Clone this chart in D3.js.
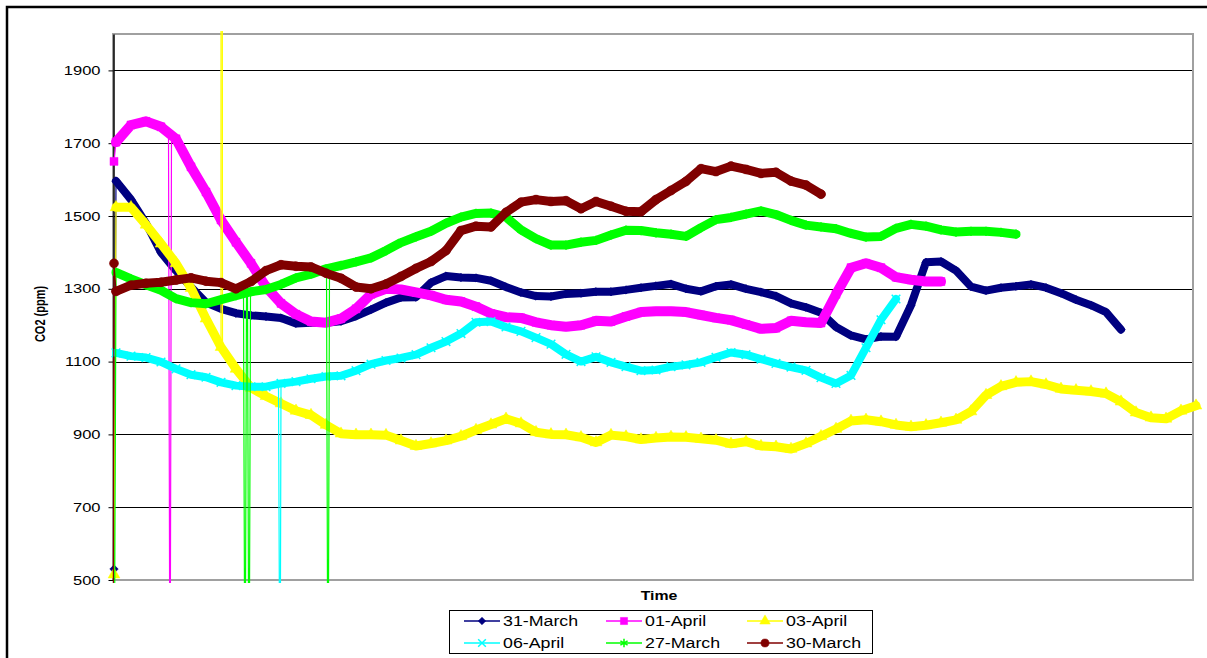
<!DOCTYPE html>
<html>
<head>
<meta charset="utf-8">
<script src="https://cdn.jsdelivr.net/npm/d3@7"></script>
<style>
	body { margin: 0; background: #fff; }
	text { font-family: "Liberation Sans", Arial, sans-serif; }
</style>
</head>
<body>
<div id="chart"></div>
<script>
// legend order = drawing order
let seriesNames = ["31-March", "01-April", "03-April", "06-April", "27-March", "30-March"];

// readings every 15 samples, first one at sample 3
let firstSample = 3;
let sampleStep = 15;

let march31 = [1596, 1545, 1480, 1400, 1350, 1305, 1262, 1245, 1233, 1227, 1224, 1220, 1205, 1207, 1207, 1211,
	1225, 1243, 1262, 1276, 1277, 1317, 1335, 1331, 1330, 1322, 1305, 1290, 1280, 1279, 1286, 1288, 1292, 1292,
	1297, 1303, 1308, 1313, 1300, 1293, 1307, 1312, 1300, 1291, 1280, 1260, 1249, 1234, 1195, 1172, 1161, 1169,
	1168, 1255, 1373, 1375, 1350, 1306, 1295, 1303, 1307, 1312, 1303, 1288, 1270, 1255, 1236, 1188];
let april01 = [1703, 1750, 1760, 1745, 1712, 1635, 1566, 1489, 1428, 1370, 1305, 1260, 1230, 1210, 1207, 1218,
	1245, 1285, 1300, 1298, 1290, 1282, 1270, 1265, 1251, 1232, 1222, 1220, 1208, 1200, 1196, 1200, 1212, 1210,
	1224, 1236, 1238, 1238, 1236, 1228, 1220, 1214, 1202, 1190, 1192, 1212, 1208, 1206, 1285, 1358, 1370, 1358,
	1332, 1325, 1320, 1320];
let april03 = [1524, 1524, 1476, 1424, 1370, 1302, 1218, 1140, 1080, 1028, 1005, 985, 965, 953, 926, 902, 899,
	899, 898, 883, 868, 875, 883, 895, 912, 927, 943, 930, 906, 900, 899, 892, 878, 898, 894, 886, 890, 893, 892,
	888, 884, 874, 880, 868, 866, 860, 875, 895, 915, 937, 940, 935, 926, 921, 925, 932, 940, 963, 1008, 1032,
	1043, 1045, 1037, 1025, 1021, 1018, 1012, 990, 960, 946, 943, 965, 979];
let april06 = [1124, 1115, 1111, 1099, 1080, 1064, 1057, 1043, 1034, 1031, 1031, 1040, 1045, 1053, 1059, 1061,
	1075, 1093, 1103, 1110, 1119, 1138, 1155, 1177, 1208, 1210, 1195, 1183, 1166, 1148, 1120, 1100, 1113, 1098,
	1086, 1075, 1077, 1086, 1091, 1098, 1112, 1125, 1119, 1107, 1095, 1085, 1076, 1056, 1040, 1062, 1138, 1215,
	1272];
let march27 = [1345, 1327, 1311, 1296, 1273, 1262, 1259, 1270, 1281, 1292, 1298, 1312, 1330, 1340, 1355, 1364,
	1374, 1385, 1405, 1427, 1443, 1458, 1480, 1497, 1507, 1508, 1497, 1462, 1438, 1420, 1420, 1428, 1433, 1448,
	1461, 1460, 1454, 1450, 1444, 1468, 1490, 1496, 1505, 1514, 1504, 1488, 1475, 1470, 1465, 1452, 1442, 1444,
	1466, 1477, 1472, 1462, 1456, 1458, 1458, 1455, 1450];
let march30 = [1293, 1310, 1315, 1318, 1324, 1330, 1321, 1317, 1300, 1320, 1350, 1366, 1362, 1360, 1343, 1329,
	1305, 1300, 1313, 1334, 1356, 1375, 1405, 1460, 1472, 1470, 1510, 1538, 1545, 1540, 1542, 1520, 1540, 1527,
	1513, 1512, 1545, 1570, 1595, 1630, 1622, 1637, 1628, 1617, 1620, 1596, 1585, 1560];

let seriesValues = [march31, april01, april03, april06, march27, march30];

// odd readings at sensor start: [sample, ppm]
let startReadings = [[[1, 530]], [[1, 1650]], [[1, 515]], [], [[1, 0]], [[0, 0], [1, 1370]]];
// dropouts: [sample, ppm before/after, bad reading]
let spikeReadings = [[], [[57, 1735, 0]], [[108, 1140, 9999]], [[167, 1040, 0]],
	[[132, 1287, 0], [136, 1287, 0], [215, 1355, 0]], []];

let yTicks = [500, 700, 900, 1100, 1300, 1500, 1700, 1900];

let colors = ["#000080", "#ff00ff", "#ffff00", "#00ffff", "#00ff00", "#800000"];
let bandWidth = [8, 10, 9, 8, 9, 9];
let stretch = 1.27; // the picture's text is widened

function marker(s) {
	if (s === 0) return { type: d3.symbolSquare, size: 36, rotate: 45, fill: true };
	if (s === 1) return { type: d3.symbolSquare, size: 64, rotate: 0, fill: true };
	if (s === 2) return { type: d3.symbolTriangle, size: 60, rotate: 0, fill: true };
	if (s === 3) return { type: d3.symbolX, size: 50, rotate: 0, fill: false };
	if (s === 4) return { type: d3.symbolAsterisk, size: 60, rotate: 0, fill: false };
	return { type: d3.symbolCircle, size: 64, rotate: 0, fill: true };
}

let margin = { top: 34, left: 113 };
let width = 1080, height = 546;

let svg = d3.select("#chart")
	.append("svg")
	.attr("width", 1207)
	.attr("height", 658);

// outer chart frame (cut by the window at right and bottom)
svg.append("rect")
	.attr("x", 7).attr("y", 7)
	.attr("width", 1230).attr("height", 680)
	.attr("fill", "none")
	.attr("stroke", "#000")
	.attr("stroke-width", 2.5);

let xScale = d3.scaleLinear().domain([0, 1080]).range([0, width]);
let yScale = d3.scaleLinear().domain([500, 2000]).range([height, 0]);

let g = svg.append("g")
	.attr("transform", "translate(" + margin.left + "," + margin.top + ")");

g.append("clipPath").attr("id", "clip")
	.append("rect")
	.attr("x", -10).attr("y", -3)
	.attr("width", width + 20).attr("height", height + 6);

// gridlines
g.selectAll(".grid")
	.data(yTicks.slice(1))
	.enter().append("line")
	.attr("class", "grid")
	.attr("x1", 0).attr("x2", width)
	.attr("y1", function (d) { return Math.round(yScale(d)) + 0.5; })
	.attr("y2", function (d) { return Math.round(yScale(d)) + 0.5; })
	.attr("stroke", "#000")
	.attr("stroke-width", 1);

// plot area border
g.append("rect")
	.attr("x", 0).attr("y", 0)
	.attr("width", width).attr("height", height)
	.attr("fill", "none")
	.attr("stroke", "#a0a0a0")
	.attr("stroke-width", 2);

// y axis
let yAxis = g.append("g")
	.attr("transform", "translate(0.5,0)")
	.call(d3.axisLeft(yScale).tickValues(yTicks).tickSize(5).tickSizeOuter(0).tickPadding(8).tickFormat(d3.format("d")));
yAxis.select(".domain").attr("stroke", "#000").attr("stroke-width", 1.5);
yAxis.selectAll(".tick line").attr("stroke", "#000");
yAxis.selectAll("text")
	.style("font-family", "'Liberation Sans', Arial, sans-serif")
	.style("font-size", "13px")
	.attr("fill", "#000")
	.attr("x", -13 / stretch)
	.attr("transform", "scale(" + stretch + ",1)");

// axis titles
svg.append("text")
	.attr("transform", "translate(45,314) scale(" + stretch + ",1) rotate(-90)")
	.attr("text-anchor", "middle")
	.style("font-size", "11px")
	.style("font-weight", "bold")
	.text("CO2 (ppm)");

svg.append("text")
	.attr("transform", "translate(659,600) scale(" + stretch + ",1)")
	.attr("text-anchor", "middle")
	.style("font-size", "12.5px")
	.style("font-weight", "bold")
	.text("Time");

let plot = g.append("g").attr("clip-path", "url(#clip)");

let line = d3.line()
	.x(function (d) { return xScale(d[0]); })
	.y(function (d) { return yScale(d[1]); });

seriesValues.forEach(function (vals, s) {
	let main = vals.map(function (v, i) { return [firstSample + i * sampleStep, v]; });
	let all = main.concat(startReadings[s]);
	spikeReadings[s].forEach(function (p) {
		all.push([p[0] - 1.5, p[1]], [p[0], p[2]], [p[0] + 1.5, p[1]]);
	});
	all.sort(function (a, b) { return a[0] - b[0]; });

	let sg = plot.append("g").attr("class", "series");

	// raw trace, incl. dropouts
	sg.append("path")
		.datum(all)
		.attr("d", line)
		.attr("fill", "none")
		.attr("stroke", colors[s])
		.attr("stroke-width", 1.2);

	// dense markers in the original merge into a band
	sg.append("path")
		.datum(main)
		.attr("d", line)
		.attr("fill", "none")
		.attr("stroke", colors[s])
		.attr("stroke-width", bandWidth[s])
		.attr("stroke-linejoin", "round")
		.attr("stroke-linecap", "round");

	let m = marker(s);
	let sym = d3.symbol().type(m.type).size(m.size);
	sg.selectAll(".pt")
		.data(main.concat(startReadings[s]))
		.enter().append("path")
		.attr("class", "pt")
		.attr("d", sym)
		.attr("transform", function (d) {
			return "translate(" + xScale(d[0]) + "," + yScale(d[1]) + ") rotate(" + m.rotate + ")";
		})
		.attr("fill", m.fill ? colors[s] : "none")
		.attr("stroke", colors[s])
		.attr("stroke-width", m.fill ? 0.5 : 1.5);
});

// legend
let legend = svg.append("g");
legend.append("rect")
	.attr("x", 449.5).attr("y", 610.5)
	.attr("width", 423).attr("height", 43)
	.attr("fill", "#fff")
	.attr("stroke", "#000")
	.attr("stroke-width", 1);

let colX = [482, 624, 765];
let rowY = [621, 643];

seriesNames.forEach(function (name, s) {
	let cx = colX[s % 3], cy = rowY[Math.floor(s / 3)];
	let item = legend.append("g");
	item.append("line")
		.attr("x1", cx - 18).attr("x2", cx + 18)
		.attr("y1", cy).attr("y2", cy)
		.attr("stroke", colors[s])
		.attr("stroke-width", 1.5);
	let m = marker(s);
	item.append("path")
		.attr("d", d3.symbol().type(m.type).size(m.size * 0.8)())
		.attr("transform", "translate(" + cx + "," + cy + ") rotate(" + m.rotate + ")")
		.attr("fill", m.fill ? colors[s] : "none")
		.attr("stroke", colors[s])
		.attr("stroke-width", m.fill ? 0.5 : 1.5);
	item.append("text")
		.attr("transform", "translate(" + (cx + 21) + "," + (cy + 5) + ") scale(" + stretch + ",1)")
		.style("font-size", "14px")
		.attr("fill", "#000")
		.text(name);
});
</script>
</body>
</html>
